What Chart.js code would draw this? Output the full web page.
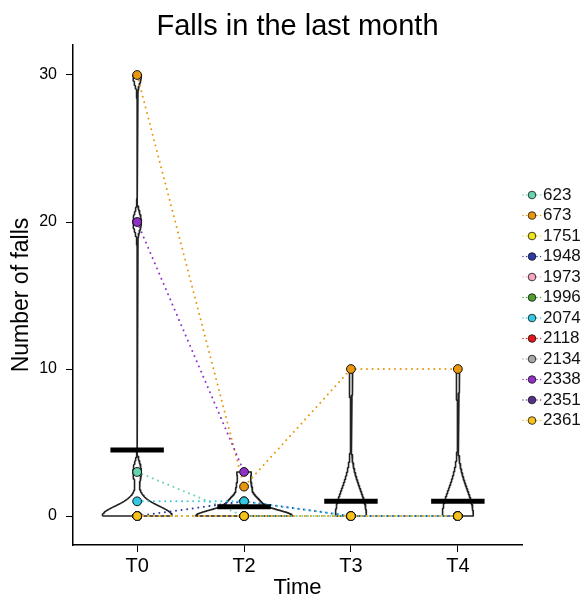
<!DOCTYPE html>
<html>
<head>
<meta charset="utf-8">
<script src="https://cdn.jsdelivr.net/npm/chart.js@4.4.1/dist/chart.umd.min.js"></script>
<style>
html, body { margin: 0; padding: 0; background: #fff; }
canvas { display: block; }
</style>
</head>
<body>
<canvas id="graph" width="584" height="596"></canvas>
<script>
const graph = document.getElementById('graph');

// data
const times = ["T0", "T2", "T3", "T4"];
const subjects = ["623", "673", "1751", "1948", "1973", "1996", "2074", "2118", "2134", "2338", "2351", "2361"];
const fallsT0 = [3, 30, 0, 0, 0, 0, 1, 0, 0, 20, 0, 0];
const fallsT2 = [0, 2, 0, 1, 0, 0, 1, 0, 0, 3, null, 0];
const fallsT3 = [0, 10, 0, 0, 0, 0, 0, 0, 0, null, null, 0];
const fallsT4 = [0, 10, 0, 0, 0, 0, 0, 0, 0, null, null, 0];
const yTicks = [0, 10, 20, 30];

const colours = ["#66d2b0", "#e8960c", "#f2e516", "#2d3aa8", "#f2a7be", "#4e9f2e",
                 "#33c8e4", "#e3161b", "#a6a6a6", "#9130c8", "#553088", "#f4c21a"];
const font = '"Liberation Sans", Arial, sans-serif';

const byTime = [fallsT0, fallsT2, fallsT3, fallsT4];

// violin: gaussian kde, bw.nrd0, trimmed to range
function bwNrd0(v) {
    const n = v.length;
    const mean = v.reduce((a, b) => a + b, 0) / n;
    const sd = Math.sqrt(v.reduce((a, b) => a + (b - mean) ** 2, 0) / (n - 1));
    const s = [...v].sort((a, b) => a - b);
    const q = p => {
        const h = (n - 1) * p, lo = Math.floor(h);
        const nxt = lo + 1 < n ? s[lo + 1] : s[lo];
        return s[lo] + (h - lo) * (nxt - s[lo]);
    };
    let lo = Math.min(sd, (q(0.75) - q(0.25)) / 1.34);
    if (!lo) lo = sd || Math.abs(s[0]) || 1;
    return 0.9 * lo * Math.pow(n, -0.2);
}
function dens(v, bw, y) {
    let sum = 0;
    v.forEach(x => { sum += Math.exp(-0.5 * ((y - x) / bw) ** 2); });
    return sum / (v.length * bw * Math.sqrt(2 * Math.PI));
}

const kdes = byTime.map(arr => {
    const v = arr.filter(x => x !== null);
    const bw = bwNrd0(v);
    const lo = Math.min(...v), hi = Math.max(...v);
    const pts = [];
    for (let k = 0; k < 512; k++) {
        const y = lo + (hi - lo) * k / 511;
        pts.push({y: y, d: dens(v, bw, y)});
    }
    return pts;
});
const maxD = Math.max(...kdes.map(p => Math.max(...p.map(o => o.d))));

const violinSets = kdes.map((pts, i) => {
    const left = pts.map(o => ({x: i - 0.45 * o.d / maxD, y: o.y}));
    const right = pts.slice().reverse().map(o => ({x: i + 0.45 * o.d / maxD, y: o.y}));
    const data = left.concat(right);
    data.push({x: left[0].x, y: left[0].y});
    return {
        data: data, showLine: true, pointRadius: 0, borderColor: '#222',
        borderWidth: 1.6, tension: 0, fill: false, borderJoinStyle: 'round', order: 10
    };
});

const meanSets = byTime.map((arr, i) => {
    const v = arr.filter(x => x !== null);
    const m = v.reduce((a, b) => a + b, 0) / v.length;
    return {
        data: [{x: i - 0.25, y: m}, {x: i + 0.25, y: m}],
        showLine: true, pointRadius: 0, borderColor: '#000',
        borderWidth: 5, borderCapStyle: 'butt', order: 1
    };
});

function subjectPoints(j) {
    const pts = [];
    byTime.forEach((arr, i) => { if (arr[j] !== null) pts.push({x: i, y: arr[j]}); });
    return pts;
}

const lineSets = subjects.map((s, j) => ({
    data: subjectPoints(j), showLine: true, pointRadius: 0,
    borderColor: colours[j], borderWidth: 2, borderDash: [0.01, 5.6],
    borderCapStyle: 'round', tension: 0, order: 6 + (11 - j) / 100
}));

const pointSets = subjects.map((s, j) => ({
    label: s, data: subjectPoints(j), showLine: false,
    pointRadius: 4.4, pointBackgroundColor: colours[j], pointBorderColor: '#111',
    pointBorderWidth: 1, order: 2 + (11 - j) / 100
}));

const titleAndLegend = {
    id: 'titleAndLegend',
    afterDraw(chart) {
        const ctx = chart.ctx;
        const area = chart.chartArea;
        ctx.save();
        ctx.fillStyle = '#000';
        ctx.font = '29px ' + font;
        ctx.textAlign = 'center';
        ctx.textBaseline = 'middle';
        ctx.fillText('Falls in the last month', (area.left + area.right) / 2, 27);

        ctx.font = '17px ' + font;
        ctx.textAlign = 'left';
        subjects.forEach((s, i) => {
            const y = 195 + i * 20.5;
            ctx.strokeStyle = colours[i];
            ctx.lineWidth = 1.4;
            ctx.lineCap = 'round';
            ctx.setLineDash([0.01, 3.5]);
            ctx.beginPath(); ctx.moveTo(523, y); ctx.lineTo(542, y); ctx.stroke();
            ctx.setLineDash([]);
            ctx.fillStyle = colours[i];
            ctx.strokeStyle = '#111';
            ctx.lineWidth = 0.8;
            ctx.beginPath(); ctx.arc(532, y, 3.8, 0, Math.PI * 2); ctx.fill(); ctx.stroke();
            ctx.fillStyle = '#111';
            ctx.fillText(s, 543, y);
        });
        ctx.restore();
    }
};

new Chart(graph, {
    type: 'scatter',
    data: { datasets: violinSets.concat(lineSets, pointSets, meanSets) },
    plugins: [titleAndLegend],
    options: {
        responsive: false,
        animation: false,
        events: [],
        devicePixelRatio: 1,
        layout: { padding: { top: 45, right: 62 } },
        plugins: {
            legend: { display: false },
            tooltip: { enabled: false },
            title: { display: false }
        },
        scales: {
            x: {
                type: 'linear', min: -0.6, max: 3.6,
                afterBuildTicks: s => { s.ticks = times.map((t, i) => ({value: i})); },
                afterFit: s => { s.height = 51; },
                ticks: {
                    callback: v => times[v], color: '#000', padding: 2,
                    font: { family: font, size: 20 }, maxRotation: 0
                },
                grid: { drawOnChartArea: false, drawTicks: true, tickLength: 7, tickColor: '#000', tickWidth: 1 },
                border: { display: true, color: '#000', width: 1.5 },
                title: {
                    display: true, text: 'Time', color: '#000',
                    font: { family: font, size: 22, lineHeight: 1 }, padding: { top: 0, bottom: -3 }
                }
            },
            y: {
                type: 'linear', min: -1.97, max: 32.04,
                afterBuildTicks: s => { s.ticks = yTicks.map(v => ({value: v})); },
                afterFit: s => { s.width = 73; },
                ticks: { color: '#000', padding: 9, font: { family: font, size: 16 } },
                grid: { drawOnChartArea: false, drawTicks: true, tickLength: 7, tickColor: '#000', tickWidth: 1 },
                border: { display: true, color: '#000', width: 1.5 },
                title: {
                    display: true, text: 'Number of falls', color: '#000',
                    font: { family: font, size: 23, lineHeight: 1.2 }, padding: { top: 8, bottom: 0 }
                }
            }
        }
    }
});
</script>
</body>
</html>
